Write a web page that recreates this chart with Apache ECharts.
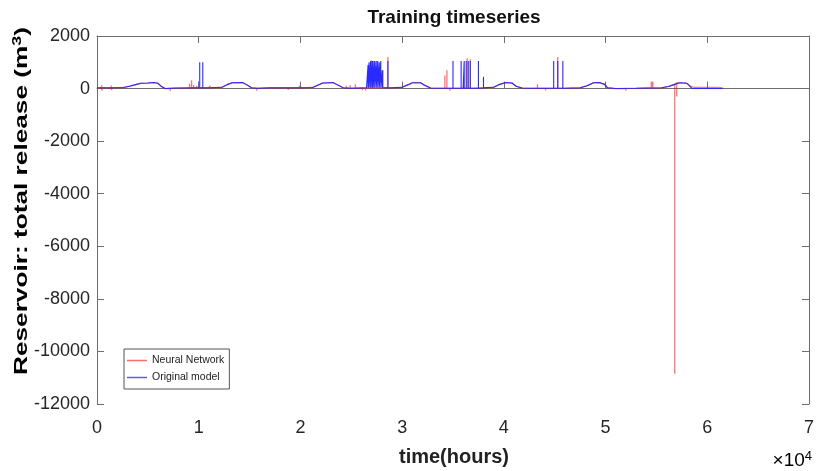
<!DOCTYPE html>
<html>
<head>
<meta charset="UTF-8">
<title>Training timeseries</title>
<script src="https://cdn.jsdelivr.net/npm/echarts@6/dist/echarts.min.js"></script>
<style>
  html, body { margin: 0; padding: 0; background: #fff; }
  #chart { width: 817px; height: 471px; }
</style>
</head>
<body>
<div id="chart"></div>
<script>
// axis ticks
var xTicks = [0, 1, 2, 3, 4, 5, 6, 7];          // x 10^4 hours
var yTicks = [2000, 0, -2000, -4000, -6000, -8000, -10000, -12000];

// original model: slow seasonal level (hours, m3)
var baseT = [0, 1500, 2600, 3200, 3800, 4300, 5000, 5600, 6000, 6300, 6700, 7200, 8000, 9500,
  11000, 12300, 12800, 13300, 14300, 14700, 15200, 15800, 17000, 20000, 21200, 21700, 22200,
  23200, 23600, 24200, 25000, 26500, 29000, 30000, 30600, 31000, 31800, 32200, 32800, 34000,
  36000, 38000, 39000, 39600, 40200, 40800, 41200, 41800, 43000, 46000, 47500, 48200, 48800,
  49400, 49900, 50200, 51000, 53000, 55500, 56200, 56800, 57300, 58000, 58300, 58500, 61500];
var baseV = [30, 30, 40, 90, 150, 200, 210, 230, 200, 90, 0, 10, 20, 30,
  30, 50, 150, 220, 230, 150, 30, 10, 30, 30, 40, 130, 210,
  230, 150, 30, 10, 30, 30, 50, 150, 220, 220, 130, 20, 10,
  10, 30, 50, 160, 230, 210, 90, 20, 10, 10, 30, 110, 220,
  230, 160, 30, 0, 10, 30, 80, 160, 220, 200, 90, 0, 0];

// original model: release spikes (hour, level at foot, peak)
var blueSpikeT = [10100, 10400, 26650, 26750, 26900, 27050, 27150, 27300, 27450, 27600, 27750,
  27900, 28050, 28100, 28600, 35000, 35800, 36100, 36300, 36500, 36700, 37500, 38000,
  44900, 45300, 45800];
var blueSpikeBase = [30, 30, 30, 30, 30, 30, 30, 30, 30, 30, 30,
  30, 30, 30, 30, 10, 10, 10, 10, 10, 10, 10, 30,
  10, 10, 10];
var blueSpikeTop = [1000, 1000, 900, 1000, 1050, 1050, 1050, 1050, 1050, 1050, 1000,
  1050, 700, 700, 1050, 1050, 1050, 1050, 1050, 1050, 1050, 1050, 450,
  1050, 1050, 1050];

// neural network: deviations from the level (hour, level at foot, peak)
var redSpikeT = [450, 500, 1400, 1450, 7200, 7700, 8300, 9100, 9300, 9500, 9800, 11100,
  15700, 17700, 18200, 18800, 19300, 19900, 24500, 24900, 25400, 26100, 26400, 27000,
  28600, 34200, 34400, 34700, 36400, 36700, 43300, 43600, 44100, 44600, 45300, 52000,
  53800, 54500, 54650, 56800, 57000, 60800];
var redSpikeBase = [30, 30, 30, 30, 10, 20, 20, 30, 30, 30, 30, 30,
  10, 30, 30, 30, 30, 30, 20, 20, 20, 30, 30, 30,
  30, 10, 10, 10, 10, 10, 10, 10, 10, 10, 10, 10,
  20, 20, 20, 160, 220, 40];
var redSpikeTop = [130, -80, 120, -60, -90, 80, 90, 180, 320, 140, 110, 110,
  -80, -40, 80, -50, 60, 110, 110, 140, 160, -50, -70, 1080,
  1200, 500, 700, -80, 1150, 1120, 160, -60, -70, 70, 1200, -80,
  60, 260, 270, -10850, -300, 70];

// neural network tail after the last season
var nnTailT = [58400, 58700, 59500, 60500, 61500];
var nnTailV = [80, 45, 45, 40, 35];

function build(pt, pv, st, sb, stop) {
  var items = [];
  for (var i = 0; i < pt.length; i++) items.push({t: pt[i], k: 0, pts: [[pt[i], pv[i]]]});
  for (var j = 0; j < st.length; j++) {
    items.push({t: st[j], k: 1, pts: [[st[j], sb[j]], [st[j], stop[j]], [st[j], sb[j]]]});
  }
  items.sort(function (a, b) { return a.t - b.t || a.k - b.k; });
  var out = [];
  items.forEach(function (it) { out = out.concat(it.pts); });
  return out;
}

var blueData = build(baseT, baseV, blueSpikeT, blueSpikeBase, blueSpikeTop);
var nnT = [], nnV = [];
for (var i = 0; i < baseT.length; i++) {
  if (baseT[i] < nnTailT[0]) { nnT.push(baseT[i]); nnV.push(baseV[i]); }
}
nnT = nnT.concat(nnTailT);
nnV = nnV.concat(nnTailV);
var redData = build(nnT, nnV, redSpikeT, redSpikeBase, redSpikeTop);

var FONT = '"Liberation Sans", Arial, Helvetica, sans-serif';
var axisGray = '#6e6e6e';
var labelColor = '#262626';

var chart = echarts.init(document.getElementById('chart'));
var xMin = xTicks[0] * 10000, xMax = xTicks[xTicks.length - 1] * 10000;
var yMin = yTicks[yTicks.length - 1], yMax = yTicks[0];

var option = {
  animation: false,
  backgroundColor: '#fff',
  grid: {left: 97, right: 5, top: 36, bottom: 67, show: false},
  legend: {
    left: 124, top: 349, orient: 'vertical',
    padding: [5, 5, 5, 3], itemGap: 4, itemWidth: 20, itemHeight: 1.5, icon: 'rect',
    borderColor: '#555', borderWidth: 1, backgroundColor: '#fff',
    textStyle: {fontFamily: FONT, fontSize: 10.5, color: '#222', lineHeight: 13},
    data: ['Neural Network', 'Original model']
  },
  xAxis: [{
    type: 'value', min: xMin, max: xMax, interval: 10000,
    axisLine: {lineStyle: {color: axisGray, width: 1}},
    axisTick: {inside: true, length: 7, lineStyle: {color: axisGray}},
    splitLine: {show: false},
    axisLabel: {
      margin: 15, fontSize: 18, fontFamily: FONT, color: labelColor,
      formatter: function (v) { return String(v / 10000); }
    }
  }, {
    type: 'value', position: 'top', min: xMin, max: xMax, interval: 10000,
    axisLine: {show: true, onZero: false, lineStyle: {color: axisGray, width: 1}},
    axisTick: {inside: true, length: 7, lineStyle: {color: axisGray}},
    axisLabel: {show: false}, splitLine: {show: false}
  }],
  yAxis: [{
    type: 'value', min: yMin, max: yMax, interval: 2000,
    axisLine: {show: true, lineStyle: {color: axisGray, width: 1}},
    axisTick: {show: true, inside: true, length: 7, lineStyle: {color: axisGray}},
    splitLine: {show: false},
    axisLabel: {margin: 7, fontSize: 18, fontFamily: FONT, color: labelColor,
      formatter: function (v) { return String(v); }}
  }, {
    type: 'value', position: 'right', min: yMin, max: yMax, interval: 2000,
    axisLine: {show: true, onZero: false, lineStyle: {color: axisGray, width: 1}},
    axisTick: {show: true, inside: true, length: 7, lineStyle: {color: axisGray}},
    axisLabel: {show: false}, splitLine: {show: false}
  }],
  series: [{
    name: 'Neural Network', type: 'line', symbol: 'none',
    xAxisIndex: 0, yAxisIndex: 0,
    lineStyle: {color: '#ff0000', width: 1.3, opacity: 0.55},
    itemStyle: {color: '#ff6a6a'},
    data: redData
  }, {
    name: 'Original model', type: 'line', symbol: 'none',
    xAxisIndex: 0, yAxisIndex: 0,
    lineStyle: {color: '#2a2aff', width: 1.1},
    itemStyle: {color: '#5a5aff'},
    data: blueData
  }],
  graphic: [{
    type: 'text', x: 454, y: 18,
    style: {
      text: 'Training timeseries', textAlign: 'center', textVerticalAlign: 'middle',
      font: 'bold 19px ' + FONT, fill: '#111'
    }
  }, {
    type: 'text', x: 454, y: 457,
    style: {
      text: 'time(hours)', textAlign: 'center', textVerticalAlign: 'middle',
      font: 'bold 20px ' + FONT, fill: '#222'
    }
  }, {
    type: 'text', x: 22, y: 201, rotation: Math.PI / 2, scaleX: 1.38,
    style: {
      text: '{a|Reservoir: total release (m}{s|3}{a|)}',
      textAlign: 'center', textVerticalAlign: 'middle',
      rich: {
        a: {fontFamily: FONT, fontWeight: 'bold', fontSize: 19, color: '#222'},
        s: {fontFamily: FONT, fontWeight: 'bold', fontSize: 13, color: '#222',
            verticalAlign: 'bottom', padding: [0, 0, 9, 0]}
      }
    }
  }, {
    type: 'text', x: 812, y: 461,
    style: {
      text: '{a|\u00d710}{s|4}',
      textAlign: 'right', textVerticalAlign: 'middle',
      rich: {
        a: {fontFamily: FONT, fontSize: 19, color: '#444'},
        s: {fontFamily: FONT, fontSize: 13, color: '#444',
            verticalAlign: 'bottom', padding: [0, 0, 10, 0]}
      }
    }
  }]
};

chart.setOption(option);
window.addEventListener('resize', function () { chart.resize(); });
</script>
</body>
</html>
